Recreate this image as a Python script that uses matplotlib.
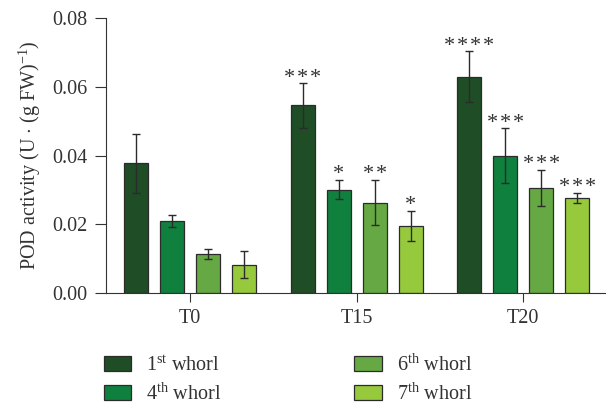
import numpy as np
import matplotlib.pyplot as plt
from matplotlib.patches import Patch

plt.rcParams['font.family'] = ['Liberation Serif', 'DejaVu Serif']
plt.rcParams['mathtext.fontset'] = 'custom'
plt.rcParams['mathtext.rm'] = 'Liberation Serif'
plt.rcParams['mathtext.it'] = 'Liberation Serif:italic'

# data
groups = ["T0", "T15", "T20"]
series = ["1st", "4th", "6th", "7th"]
whorl_1 = [0.0377, 0.0546, 0.0630]
whorl_4 = [0.0209, 0.0301, 0.0399]
whorl_6 = [0.0114, 0.0263, 0.0305]
whorl_7 = [0.0082, 0.0195, 0.0277]
err_1 = [0.0085, 0.0065, 0.0073]
err_4 = [0.0018, 0.0028, 0.0080]
err_6 = [0.0015, 0.0066, 0.0053]
err_7 = [0.0040, 0.0044, 0.0014]
stars_1 = ["", "***", "****"]
stars_4 = ["", "*", "***"]
stars_6 = ["", "**", "***"]
stars_7 = ["", "*", "***"]

values = [whorl_1, whorl_4, whorl_6, whorl_7]
errors = [err_1, err_4, err_6, err_7]
stars = [stars_1, stars_4, stars_6, stars_7]
colors = ["#1e4d26", "#10803f", "#66a843", "#96c93c"]

FS = 14.5

fig = plt.figure(figsize=(6.08, 4.04), dpi=100)
ax = fig.add_axes([0.174, 0.275, 0.821, 0.68])

x = np.arange(len(groups))
step = 0.216
width = 0.144
for i in range(4):
    pos = x + (i - 1.5) * step
    ax.bar(pos, values[i], width, color=colors[i], edgecolor="#2b2b2b", linewidth=0.9, zorder=2)
    ax.errorbar(pos, values[i], yerr=errors[i], fmt="none", ecolor="#2b2b2b",
                elinewidth=1.0, capsize=3, capthick=1.0, zorder=3)
    for p, v, e, s in zip(pos, values[i], errors[i], stars[i]):
        if s:
            ax.text(p, v + e - 0.0013, "\u200a".join(s), ha="center", va="bottom",
                    fontsize=16, color="#333333")

ax.set_xlim(-0.505, 2.49)
ax.set_ylim(0, 0.08)
ax.set_yticks([0, 0.02, 0.04, 0.06, 0.08])
ax.set_yticklabels(["0.00", "0.02", "0.04", "0.06", "0.08"])
ax.set_xticks(x)
ax.set_xticklabels(groups)
ax.tick_params(axis="both", labelsize=FS, color="#333333", labelcolor="#333333")
ax.tick_params(axis="x", length=6.5, pad=5)
ax.tick_params(axis="y", length=8, pad=5)
for side in ["top", "right"]:
    ax.spines[side].set_visible(False)
for side in ["left", "bottom"]:
    ax.spines[side].set_color("#333333")
ax.set_ylabel("POD activity (U $\\cdot$ (g FW)$^{-1}$)", fontsize=FS, color="#333333",
              labelpad=7)

handles = [Patch(facecolor=c, edgecolor="#2b2b2b", linewidth=0.9) for c in colors]
labels = [s[0] + "$^{\\mathrm{" + s[1:] + "}}$ whorl" for s in series]
fig.legend(handles, labels, ncol=2, loc="upper left", bbox_to_anchor=(0.161, 0.138),
           frameon=False, fontsize=FS, handlelength=1.35, handleheight=0.75,
           handletextpad=0.75, columnspacing=6.6, labelspacing=0.4,
           labelcolor="#333333", borderaxespad=0, borderpad=0.3)

fig.savefig("out.png", dpi=100)
